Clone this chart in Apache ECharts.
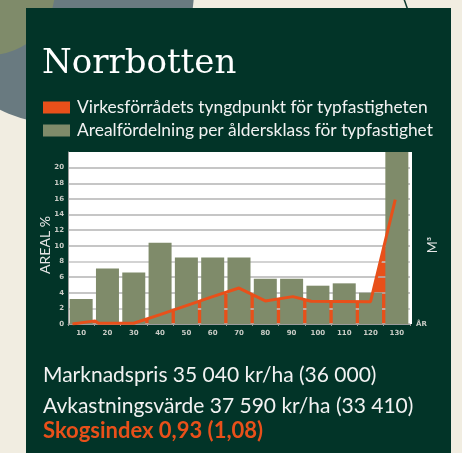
<!DOCTYPE html>
<html>
<head>
<meta charset="utf-8">
<script src="https://cdn.jsdelivr.net/npm/echarts@6/dist/echarts.min.js"></script>
<style>
  html, body { margin: 0; padding: 0; background: #f1ede1; }
  #chart { width: 462px; height: 453px; }
</style>
</head>
<body>
<div id="chart"></div>
<script>
// åldersklasser (x-axeln)
const ageClasses = ['10', '20', '30', '40', '50', '60', '70', '80', '90', '100', '110', '120', '130']
// arealfördelning per åldersklass, % (sista stapeln går över toppen)
const areaShare = [3.2, 7.1, 6.6, 10.4, 8.5, 8.5, 8.5, 5.8, 5.8, 4.9, 5.2, 4.0, 24]
// virkesförrådets tyngdpunkt: ålder (år) och värde
const volumeAge = [1.7, 10.3, 11.6, 25, 35, 45, 55, 65, 75, 85.5, 92.4, 115, 124.4]
const volumeValue = [0, 0.4, 0.1, 0.1, 1.2, 2.35, 3.5, 4.6, 2.95, 3.5, 2.9, 2.85, 15.9]
const yTicks = [0, 2, 4, 6, 8, 10, 12, 14, 16, 18, 20]

const infoLines = [
  'Marknadspris 35 040 kr/ha (36 000)',
  'Avkastningsvärde 37 590 kr/ha (33 410)',
]
const indexLine = 'Skogsindex 0,93 (1,08)'

const ORANGE = '#e8501a'
const OLIVE = '#7f8b6a'
const DARK = '#023428'
const SANS = 'Lato, "Noto Sans", sans-serif'

const volumeData = volumeAge.map((a, i) => [a, volumeValue[i]])

const chart = echarts.init(document.getElementById('chart'))

const option = {
  backgroundColor: '#f1ede1',
  animation: false,
  title: {
    text: 'Norrbotten',
    left: 37,
    top: 42,
    textStyle: {
      color: '#ffffff',
      fontFamily: '"DejaVu Serif", serif',
      fontWeight: 'normal',
      fontSize: 34,
    },
  },
  legend: {
    orient: 'vertical',
    left: 38,
    top: 94,
    icon: 'rect',
    itemWidth: 27,
    itemHeight: 12,
    itemGap: 6,
    selectedMode: false,
    data: ['Virkesförrådets tyngdpunkt för typfastigheten', 'Arealfördelning per åldersklass för typfastighet'],
    textStyle: {
      color: '#f2f2f2',
      fontFamily: SANS,
      fontSize: 17.4,
      padding: [0, 0, 0, 2],
    },
  },
  grid: {
    left: 68,
    top: 152,
    width: 342,
    height: 172,
  },
  xAxis: [
    {
      type: 'category',
      data: ageClasses,
      name: 'ÅR',
      nameGap: 6,
      nameTextStyle: { color: '#c9ccc6', fontSize: 7, fontFamily: 'DejaVu Sans', fontWeight: 'bold' },
      axisLine: { lineStyle: { color: '#9c9c9c', width: 1 } },
      axisTick: { show: true, length: 2, lineStyle: { color: '#9c9c9c' } },
      axisLabel: { color: '#c9ccc6', fontSize: 7, fontFamily: 'DejaVu Sans', fontWeight: 'bold', margin: 6 },
    },
    {
      // dold värdeaxel för linjen
      type: 'value',
      min: 0,
      max: 130,
      show: false,
    },
  ],
  yAxis: [
    {
      type: 'value',
      min: 0,
      max: 22,
      interval: 2,
      name: 'AREAL %',
      nameLocation: 'middle',
      nameRotate: 90,
      nameGap: 16,
      nameMoveOverlap: false,
      nameTextStyle: { color: '#e6e6e6', fontSize: 14, fontFamily: SANS, padding: [0, 14, 0, 0] },
      axisLine: { show: true, lineStyle: { color: '#9c9c9c', width: 1 } },
      axisTick: { show: false },
      axisLabel: {
        color: '#c9ccc6',
        fontSize: 7,
        fontFamily: 'DejaVu Sans',
        fontWeight: 'bold',
        margin: 4,
        formatter: (v) => (yTicks.indexOf(v) >= 0 ? String(v) : ''),
      },
      splitLine: {
        lineStyle: {
          width: 1.5,
          color: ['#b3b3b3', '#c4c4c4', '#b3b3b3', '#b3b3b3', '#c4c4c4', '#b3b3b3', '#b3b3b3', '#b3b3b3', '#b3b3b3', '#b3b3b3', '#b3b3b3', 'rgba(0,0,0,0)'],
        },
      },
    },
    {
      type: 'value',
      min: 0,
      max: 22,
      position: 'right',
      name: 'M³',
      nameLocation: 'middle',
      nameRotate: 90,
      nameGap: 16,
      nameMoveOverlap: false,
      nameTextStyle: { color: '#e6e6e6', fontSize: 13, fontFamily: SANS, padding: [0, 14, 0, 0] },
      axisLine: { show: false },
      axisTick: { show: false },
      axisLabel: { show: false },
      splitLine: { show: false },
    },
  ],
  series: [
    {
      // fyllnad bakom staplarna
      name: 'fill',
      type: 'line',
      xAxisIndex: 1,
      yAxisIndex: 0,
      data: volumeData,
      symbol: 'none',
      lineStyle: { width: 0 },
      areaStyle: { color: ORANGE, opacity: 1 },
      itemStyle: { color: ORANGE },
      z: -5,
      silent: true,
    },
    {
      name: 'Arealfördelning per åldersklass för typfastighet',
      type: 'bar',
      data: areaShare,
      barWidth: 23,
      itemStyle: { color: OLIVE },
      z: 2,
    },
    {
      name: 'Virkesförrådets tyngdpunkt för typfastigheten',
      type: 'line',
      xAxisIndex: 1,
      yAxisIndex: 0,
      data: volumeData,
      symbol: 'none',
      lineStyle: { width: 3, color: ORANGE },
      itemStyle: { color: ORANGE },
      z: 3,
    },
  ],
  graphic: [
    { type: 'circle', shape: { cx: 60, cy: -10, r: 134 }, style: { fill: '#697a80' }, z: -40, silent: true },
    { type: 'circle', shape: { cx: -10, cy: -10, r: 65 }, style: { fill: OLIVE }, z: -39, silent: true },
    { type: 'line', shape: { x1: 404, y1: -1, x2: 407.5, y2: 9 }, style: { stroke: '#0d3a2e', lineWidth: 1.5 }, z: -38, silent: true },
    { type: 'rect', shape: { x: 26, y: 8, width: 425, height: 460 }, style: { fill: DARK }, z: -30, silent: true },
    { type: 'rect', shape: { x: 68, y: 152, width: 344, height: 172 }, style: { fill: '#ffffff' }, z: -20, silent: true },
    {
      type: 'text', left: 43, top: 365, z: 10,
      style: { text: infoLines[0], fill: '#f2f2f2', font: '21px ' + SANS },
    },
    {
      type: 'text', left: 43, top: 396, z: 10,
      style: { text: infoLines[1], fill: '#f2f2f2', font: '21px ' + SANS },
    },
    {
      type: 'text', left: 43, top: 420, z: 10,
      style: { text: indexLine, fill: ORANGE, font: 'bold 22px ' + SANS },
    },
  ],
}

chart.setOption(option)
</script>
</body>
</html>
